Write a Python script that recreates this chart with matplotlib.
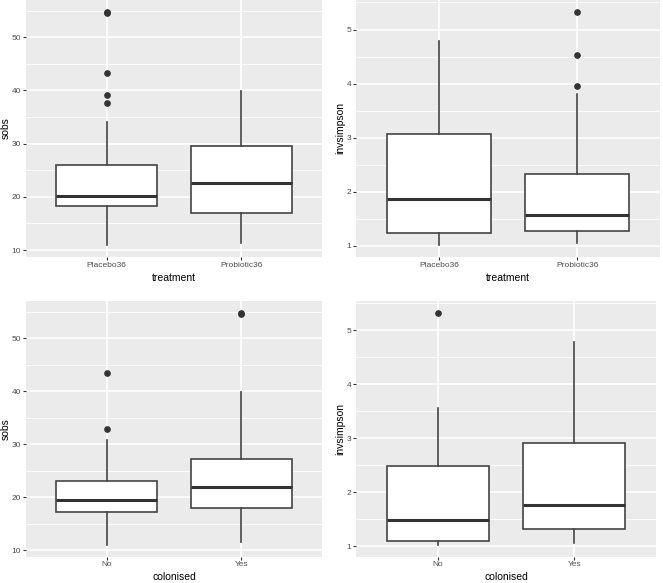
import matplotlib
matplotlib.use("Agg")
import matplotlib.pyplot as plt
from matplotlib.ticker import MultipleLocator

plt.rcParams['font.family'] = ['Liberation Sans', 'DejaVu Sans']

# ---- data ----
treat_cats = ["Placebo36", "Probiotic36"]
col_cats = ["No", "Yes"]

# stats: [whislo, q1, med, q3, whishi]
sobs_treat = [[10.9, 18.3, 20.1, 25.9, 34.0], [11.4, 17.0, 22.7, 29.6, 39.9]]
sobs_treat_out = [[37.7, 39.2, 43.3, 54.5, 54.8], []]

inv_treat = [[1.01, 1.236, 1.873, 3.063, 4.78], [1.06, 1.266, 1.576, 2.325, 3.81]]
inv_treat_out = [[], [3.95, 4.52, 5.33]]

sobs_col = [[11.0, 17.26, 19.4, 23.1, 30.8], [11.5, 18.0, 21.85, 27.2, 39.9]]
sobs_col_out = [[32.8, 43.4], [54.5, 54.8]]

inv_col = [[1.02, 1.10, 1.49, 2.49, 3.57], [1.06, 1.32, 1.77, 2.91, 4.78]]
inv_col_out = [[5.33], []]

W, H = 663, 583
fig = plt.figure(figsize=(W / 100, H / 100), dpi=100)

panels = [
    # (left, top, right, bottom) in px, ylabel center x px, xlabel center y px
    ((26, 0, 322, 257), treat_cats, sobs_treat, sobs_treat_out, "sobs", "treatment", 10, 6, 278),
    ((356, 0, 660, 257), treat_cats, inv_treat, inv_treat_out, "invsimpson", "treatment", 1, 340, 278),
    ((26, 301, 322, 556.7), col_cats, sobs_col, sobs_col_out, "sobs", "colonised", 10, 6, 577),
    ((356, 301, 656, 556.7), col_cats, inv_col, inv_col_out, "invsimpson", "colonised", 1, 340, 577),
]

for (l, t, r, b), cats, stats, outs, ylab, xlab, step, ylx, xly in panels:
    ax = fig.add_axes([l / W, 1 - b / H, (r - l) / W, (b - t) / H])
    ax.set_facecolor("#EBEBEB")
    for s in ax.spines.values():
        s.set_visible(False)
    bstats = []
    allv = []
    for cat, st, o in zip(cats, stats, outs):
        bstats.append(dict(label=cat, whislo=st[0], q1=st[1], med=st[2], q3=st[3],
                           whishi=st[4], fliers=o))
        allv += st + o
    ax.bxp(bstats, positions=[1, 2], widths=0.75, patch_artist=True, showcaps=False,
           boxprops=dict(facecolor="white", edgecolor="#444444", linewidth=1.2),
           medianprops=dict(color="#333333", linewidth=2.2),
           whiskerprops=dict(color="#444444", linewidth=1.2),
           flierprops=dict(marker="o", markerfacecolor="#333333", markeredgecolor="#333333",
                           markersize=3.8),
           zorder=3)
    lo, hi = min(allv), max(allv)
    pad = (hi - lo) * 0.05
    ax.set_ylim(lo - pad, hi + pad)
    ax.set_xlim(0.4, 2.6)
    ax.yaxis.set_major_locator(MultipleLocator(step))
    ax.yaxis.set_minor_locator(MultipleLocator(step / 2))
    ax.set_xticks([1, 2])
    ax.set_xticklabels(cats)
    ax.grid(True, which="major", color="white", linewidth=1.2, zorder=0)
    ax.grid(True, which="minor", axis="y", color="white", linewidth=0.6, zorder=0)
    ax.set_axisbelow(True)
    ax.tick_params(axis="both", which="major", colors="#333333", length=2.2, width=0.8,
                   labelsize=6, labelcolor="#4D4D4D", pad=1.2)
    ax.tick_params(axis="both", which="minor", length=0)
    ax.set_xlabel(xlab, fontsize=7.5, color="black")
    ax.set_ylabel(ylab, fontsize=7.5, color="black")
    # place axis titles at measured pixel positions
    ax.xaxis.set_label_coords(0.5, -(xly - b) / (b - t))
    ax.xaxis.label.set_va("center")
    ax.yaxis.set_label_coords(-(l - ylx) / (r - l), 0.5)
    ax.yaxis.label.set_va("center")
    ax.yaxis.label.set_ha("center")

fig.savefig("out.png", dpi=100)
